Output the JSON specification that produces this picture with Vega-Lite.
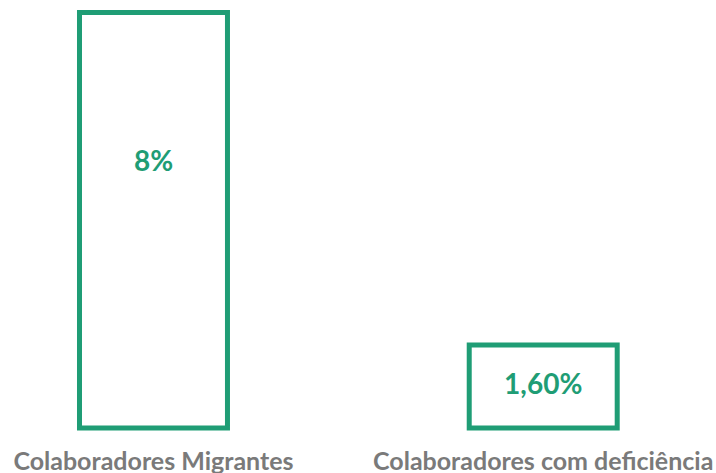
{
  "$schema": "https://vega.github.io/schema/vega-lite/v6.json",
  "autosize": "none",
  "width": 693.6,
  "height": 415.5,
  "padding": {"left": 1.55, "top": 12.5, "right": 20.85, "bottom": 45},
  "background": "white",
  "config": {"view": {"stroke": null}},
  "data": {"values": [
    {"categoria": "Colaboradores Migrantes", "valor": 8, "rotulo": "8%"},
    {"categoria": "Colaboradores com deficiência", "valor": 1.6, "rotulo": "1,60%"}
  ]},
  "transform": [{"calculate": "datum.valor / 2", "as": "meio"}],
  "encoding": {
    "x": {
      "field": "categoria", "type": "nominal", "sort": null,
      "scale": {"paddingInner": 0.6203, "paddingOuter": 0.2},
      "axis": {"title": null, "domain": false, "ticks": false, "labelAngle": 0, "labelPadding": 21,
               "labelFont": "Lato", "labelFontWeight": "bold", "labelFontSize": 25, "labelColor": "#7a7a7a", "labelLimit": 400, "labelOverlap": false}
    }
  },
  "layer": [
    {
      "mark": {"type": "bar", "fill": "white", "stroke": "#1f9d75", "strokeWidth": 5},
      "encoding": {
        "y": {"field": "valor", "type": "quantitative", "scale": {"domain": [0, 8], "nice": false}, "axis": null}
      }
    },
    {
      "transform": [{"filter": "datum.valor == 8"}],
      "mark": {"type": "text", "font": "Lato", "fontWeight": "bold", "fontSize": 28, "color": "#1f9d75", "baseline": "middle", "dy": -57},
      "encoding": {
        "y": {"field": "meio", "type": "quantitative", "scale": {"domain": [0, 8], "nice": false}},
        "text": {"field": "rotulo"}
      }
    },
    {
      "transform": [{"filter": "datum.valor != 8"}],
      "mark": {"type": "text", "font": "Lato", "fontWeight": "bold", "fontSize": 28, "color": "#1f9d75", "baseline": "middle"},
      "encoding": {
        "y": {"field": "meio", "type": "quantitative", "scale": {"domain": [0, 8], "nice": false}},
        "text": {"field": "rotulo"}
      }
    }
  ]
}
